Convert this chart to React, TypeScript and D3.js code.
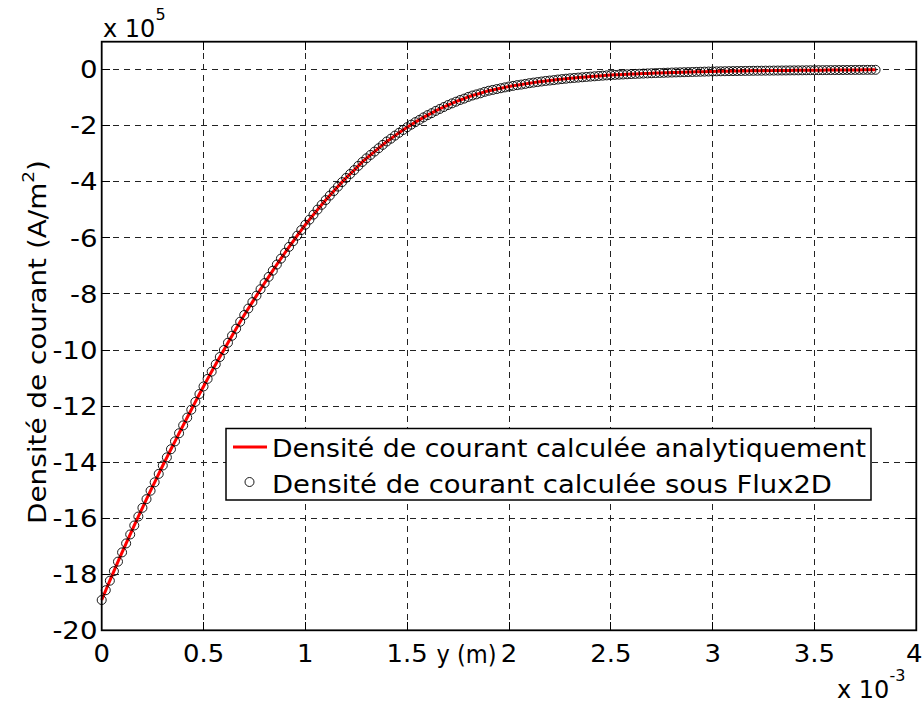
import React from "react";
import * as d3 from "d3";

// positions along y (in units of 1e-3 m)
const positions = [
  0.00, 0.02, 0.04, 0.06, 0.08, 0.10, 0.12, 0.14, 0.16, 0.18,
  0.20, 0.22, 0.24, 0.26, 0.28, 0.30, 0.32, 0.34, 0.36, 0.38,
  0.40, 0.42, 0.44, 0.46, 0.48, 0.50, 0.52, 0.54, 0.56, 0.58,
  0.60, 0.62, 0.64, 0.66, 0.68, 0.70, 0.72, 0.74, 0.76, 0.78,
  0.80, 0.82, 0.84, 0.86, 0.88, 0.90, 0.92, 0.94, 0.96, 0.98,
  1.00, 1.02, 1.04, 1.06, 1.08, 1.10, 1.12, 1.14, 1.16, 1.18,
  1.20, 1.22, 1.24, 1.26, 1.28, 1.30, 1.32, 1.34, 1.36, 1.38,
  1.40, 1.42, 1.44, 1.46, 1.48, 1.50, 1.52, 1.54, 1.56, 1.58,
  1.60, 1.62, 1.64, 1.66, 1.68, 1.70, 1.72, 1.74, 1.76, 1.78,
  1.80, 1.82, 1.84, 1.86, 1.88, 1.90, 1.92, 1.94, 1.96, 1.98,
  2.00, 2.02, 2.04, 2.06, 2.08, 2.10, 2.12, 2.14, 2.16, 2.18,
  2.20, 2.22, 2.24, 2.26, 2.28, 2.30, 2.32, 2.34, 2.36, 2.38,
  2.40, 2.42, 2.44, 2.46, 2.48, 2.50, 2.52, 2.54, 2.56, 2.58,
  2.60, 2.62, 2.64, 2.66, 2.68, 2.70, 2.72, 2.74, 2.76, 2.78,
  2.80, 2.82, 2.84, 2.86, 2.88, 2.90, 2.92, 2.94, 2.96, 2.98,
  3.00, 3.02, 3.04, 3.06, 3.08, 3.10, 3.12, 3.14, 3.16, 3.18,
  3.20, 3.22, 3.24, 3.26, 3.28, 3.30, 3.32, 3.34, 3.36, 3.38,
  3.40, 3.42, 3.44, 3.46, 3.48, 3.50, 3.52, 3.54, 3.56, 3.58,
  3.60, 3.62, 3.64, 3.66, 3.68, 3.70, 3.72, 3.74, 3.76, 3.78,
  3.80,
];

// current density (units of 1e5 A/m^2), analytic solution
const analytic = [
  -18.92, -18.57, -18.23, -17.89, -17.55, -17.22, -16.90, -16.58, -16.26, -15.94,
  -15.63, -15.32, -15.02, -14.72, -14.42, -14.12, -13.83, -13.54, -13.26, -12.97,
  -12.69, -12.41, -12.13, -11.85, -11.57, -11.30, -11.03, -10.77, -10.51, -10.25,
  -10.00, -9.74, -9.49, -9.24, -8.99, -8.75, -8.52, -8.29, -8.06, -7.83,
  -7.61, -7.39, -7.17, -6.95, -6.74, -6.53, -6.32, -6.12, -5.92, -5.72,
  -5.53, -5.35, -5.17, -4.99, -4.82, -4.65, -4.49, -4.33, -4.17, -4.01,
  -3.86, -3.72, -3.58, -3.43, -3.29, -3.16, -3.04, -2.92, -2.80, -2.68,
  -2.56, -2.46, -2.35, -2.25, -2.15, -2.05, -1.96, -1.87, -1.79, -1.70,
  -1.62, -1.55, -1.47, -1.40, -1.33, -1.26, -1.20, -1.14, -1.08, -1.03,
  -0.97, -0.92, -0.88, -0.84, -0.79, -0.75, -0.72, -0.69, -0.66, -0.63,
  -0.60, -0.575, -0.55, -0.53, -0.505, -0.48, -0.46, -0.44, -0.42, -0.40,
  -0.385, -0.37, -0.35, -0.335, -0.32, -0.305, -0.293, -0.281, -0.269, -0.257,
  -0.245, -0.234, -0.223, -0.212, -0.201, -0.19, -0.183, -0.176, -0.169, -0.162,
  -0.155, -0.149, -0.143, -0.137, -0.131, -0.125, -0.12, -0.115, -0.11, -0.105,
  -0.10, -0.096, -0.092, -0.088, -0.084, -0.08, -0.076, -0.072, -0.068, -0.064,
  -0.06, -0.058, -0.055, -0.053, -0.05, -0.048, -0.046, -0.044, -0.042, -0.04,
  -0.038, -0.036, -0.035, -0.033, -0.032, -0.03, -0.029, -0.027, -0.026, -0.024,
  -0.023, -0.022, -0.021, -0.019, -0.018, -0.017, -0.016, -0.015, -0.014, -0.013,
  -0.012, -0.011, -0.01, -0.009, -0.008, -0.007, -0.006, -0.005, -0.004, -0.004,
  -0.003,
];

// Flux2D results coincide with the analytic curve
const flux2d = analytic;

const xTicks = [0, 0.5, 1, 1.5, 2, 2.5, 3, 3.5, 4];
const xTickLabels = ["0", "0.5", "1", "1.5", "2", "2.5", "3", "3.5", "4"];
const yTicks = [0, -2, -4, -6, -8, -10, -12, -14, -16, -18, -20];
const yTickLabels = ["0", "-2", "-4", "-6", "-8", "-10", "-12", "-14", "-16", "-18", "-20"];
const legendLabels = [
  "Densité de courant calculée analytiquement",
  "Densité de courant calculée sous Flux2D",
];

const W = 923;
const H = 703;
const L = 101.7, R = 916.3, T = 41.7, B = 630.3;
const FONT = "'DejaVu Sans', Verdana, sans-serif";

export default function App() {
  const x = d3.scaleLinear().domain([0, 4]).range([L, R]);
  const y = d3.scaleLinear().domain([-20, 1]).range([B, T]);
  const pts = positions.map((p, i) => [p, analytic[i]] as [number, number]);
  const line = d3
    .line<[number, number]>()
    .x((d) => x(d[0]))
    .y((d) => y(d[1]));
  const tickLen = 8;

  return (
    <svg
      width={W}
      height={H}
      style={{ position: "absolute", left: 0, top: 0, display: "block", background: "#fff" }}
      fontFamily={FONT}
    >
      <rect x={0} y={0} width={W} height={H} fill="#fff" />
      {/* grid */}
      <g stroke="#222" strokeWidth={1} strokeDasharray="6,5" shapeRendering="crispEdges">
        {xTicks.slice(1, -1).map((t) => (
          <line key={"gx" + t} x1={x(t)} x2={x(t)} y1={T} y2={B} />
        ))}
        {yTicks.slice(0, -1).map((t) => (
          <line key={"gy" + t} x1={L} x2={R} y1={y(t)} y2={y(t)} />
        ))}
      </g>
      {/* ticks */}
      <g stroke="#000" strokeWidth={1} shapeRendering="crispEdges">
        {xTicks.map((t) => (
          <g key={"tx" + t}>
            <line x1={x(t)} x2={x(t)} y1={B} y2={B - tickLen} />
            <line x1={x(t)} x2={x(t)} y1={T} y2={T + tickLen} />
          </g>
        ))}
        {yTicks.map((t) => (
          <g key={"ty" + t}>
            <line x1={L} x2={L + tickLen} y1={y(t)} y2={y(t)} />
            <line x1={R} x2={R - tickLen} y1={y(t)} y2={y(t)} />
          </g>
        ))}
      </g>
      {/* analytic line */}
      <path d={line(pts) || ""} fill="none" stroke="#ff0000" strokeWidth={3} />
      {/* Flux2D markers */}
      <g fill="none" stroke="#000" strokeWidth={0.9}>
        {positions.map((p, i) => (
          <circle key={"m" + i} cx={x(p)} cy={y(flux2d[i])} r={4.5} />
        ))}
      </g>
      {/* axes box */}
      <rect x={L} y={T} width={R - L} height={B - T} fill="none" stroke="#000" strokeWidth={1.8} />
      {/* tick labels */}
      <g fontSize={24} fill="#000">
        {xTicks.map((t, i) => (
          <text
            key={"lx" + t}
            transform={`translate(${i === xTicks.length - 1 ? x(t) - 2 : x(t)},661.5) scale(1.08,1)`}
            textAnchor="middle"
          >
            {xTickLabels[i]}
          </text>
        ))}
        {yTicks.map((t, i) => (
          <text
            key={"ly" + t}
            transform={`translate(97.5,${y(t)}) scale(1.15,1)`}
            dy="0.36em"
            textAnchor="end"
          >
            {yTickLabels[i]}
          </text>
        ))}
      </g>
      {/* exponent labels */}
      <text x={103} y={36.5} fontSize={24} fill="#000">
        x 10<tspan fontSize={16} dy={-17}>5</tspan>
      </text>
      <text x={837} y={698} fontSize={24} fill="#000">
        x 10<tspan fontSize={16} dy={-17}>-3</tspan>
      </text>
      {/* axis labels */}
      <text
        x={466.5}
        y={663}
        fontSize={24}
        textAnchor="middle"
        fill="#000"
        textLength={60}
        lengthAdjust="spacingAndGlyphs"
      >
        y (m)
      </text>
      <text
        transform={`translate(46, ${(T + B) / 2 + 6}) rotate(-90) scale(1.16,1)`}
        fontSize={24}
        textAnchor="middle"
        fill="#000"
      >
        Densité de courant (A/m<tspan fontSize={16} dy={-12}>2</tspan>
        <tspan dy={12}>)</tspan>
      </text>
      {/* legend */}
      <g>
        <rect x={226} y={428.5} width={645} height={71.5} fill="#fff" stroke="#000" strokeWidth={1.5} />
        <line x1={233} x2={267} y1={447} y2={447} stroke="#ff0000" strokeWidth={3} />
        <text
          x={272}
          y={457}
          fontSize={24}
          fill="#000"
          textLength={594}
          lengthAdjust="spacingAndGlyphs"
        >
          {legendLabels[0]}
        </text>
        <circle cx={249.5} cy={482} r={4.5} fill="none" stroke="#000" strokeWidth={0.9} />
        <text
          x={272}
          y={492.5}
          fontSize={24}
          fill="#000"
          textLength={560}
          lengthAdjust="spacingAndGlyphs"
        >
          {legendLabels[1]}
        </text>
      </g>
    </svg>
  );
}
